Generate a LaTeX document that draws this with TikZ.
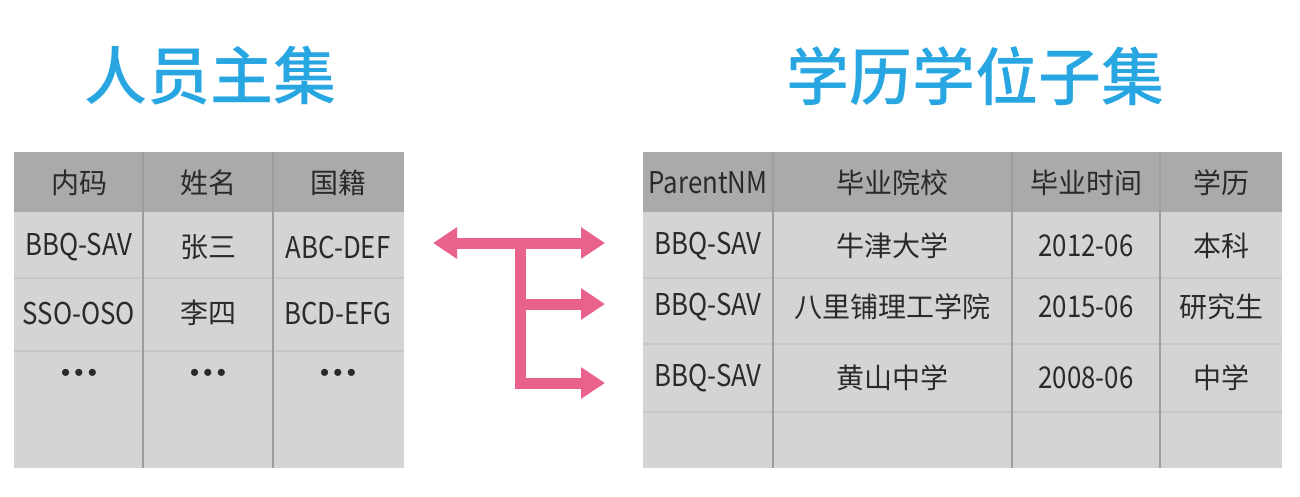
\documentclass[tikz,border=0pt]{standalone}
\usepackage{fontspec}
\setmainfont{Noto Sans CJK SC}
\newfontfamily\ttlfont{Noto Sans CJK SC Medium}
\newfontfamily\narrowfont[FakeStretch=0.86]{Noto Sans CJK SC}
\newfontfamily\dotfont{Liberation Sans}
\usetikzlibrary{arrows.meta}
\definecolor{titleblue}{HTML}{27A6E1}
\definecolor{linkpink}{HTML}{E9628B}
\definecolor{headgray}{HTML}{AAAAAA}
\definecolor{bodygray}{HTML}{D4D4D4}
\definecolor{txtgray}{HTML}{2A2A2A}
\tikzset{
  ttl/.style={font=\ttlfont\fontsize{63}{66}\selectfont, text=titleblue, inner sep=0pt},
  cell/.style={font=\fontsize{28}{30}\selectfont, text=txtgray, inner sep=0pt},
  latcell/.style={font=\narrowfont\fontsize{30}{32}\selectfont, text=txtgray, inner sep=0pt},
  dots/.style={font=\dotfont\fontsize{26}{28}\selectfont, text=txtgray, inner sep=0pt},
  headbg/.style={fill=headgray},
  bodybg/.style={fill=bodygray},
  colline/.style={draw=black!38, line width=1.2pt},
  rowline/.style={draw=black!22, line width=2pt},
  link/.style={draw=linkpink, line width=11pt},
  tip/.style={-{Triangle[length=24pt,width=30pt]}},
}

\begin{document}
\begin{tikzpicture}[x=1pt, y=-1pt]
\useasboundingbox (0,0) rectangle (1300,496);
% titles
\node[ttl] (mastertitle) at (210,76) {人员主集};
\node[ttl] (subtitle) at (975,76) {学历学位子集};

% master table
\fill[headbg] (14,152) rectangle (404,212);
\fill[bodybg] (14,212) rectangle (404,468);
\draw[rowline] (14,278) -- (404,278) (14,351) -- (404,351);
\draw[colline] (143,152) -- (143,468) (273,152) -- (273,468);
\node[cell] (mh1) at (79,183) {内码};
\node[cell] (mh2) at (208,183) {姓名};
\node[cell] (mh3) at (338,183) {国籍};
\node[latcell] (ma1) at (79,247) {BBQ-SAV};
\node[cell] (ma2) at (208,247) {张三};
\node[latcell] (ma3) at (338,247) {ABC-DEF};
\node[latcell] (mb1) at (79,313) {SSO-OSO};
\node[cell] (mb2) at (208,313) {李四};
\node[latcell] (mb3) at (338,313) {BCD-EFG};
\node[dots] (mc1) at (79,375) {•\,•\,•};
\node[dots] (mc2) at (208,375) {•\,•\,•};
\node[dots] (mc3) at (338,375) {•\,•\,•};

% sub table
\fill[headbg] (643,152) rectangle (1282,212);
\fill[bodybg] (643,212) rectangle (1282,468);
\draw[rowline] (643,278) -- (1282,278) (643,344) -- (1282,344) (643,412) -- (1282,412);
\draw[colline] (773,152) -- (773,468) (1012,152) -- (1012,468) (1160,152) -- (1160,468);
\node[latcell] (sh1) at (708,183) {ParentNM};
\node[cell] (sh2) at (892,183) {毕业院校};
\node[cell] (sh3) at (1086,183) {毕业时间};
\node[cell] (sh4) at (1221,183) {学历};
\node[latcell] (sa1) at (708,246) {BBQ-SAV};
\node[cell] (sa2) at (892,246) {牛津大学};
\node[latcell] (sa3) at (1086,246) {2012-06};
\node[cell] (sa4) at (1221,246) {本科};
\node[latcell] (sb1) at (708,307) {BBQ-SAV};
\node[cell] (sb2) at (892,307) {八里铺理工学院};
\node[latcell] (sb3) at (1086,307) {2015-06};
\node[cell] (sb4) at (1221,307) {研究生};
\node[latcell] (sc1) at (708,378) {BBQ-SAV};
\node[cell] (sc2) at (892,378) {黄山中学};
\node[latcell] (sc3) at (1086,378) {2008-06};
\node[cell] (sc4) at (1221,378) {中学};

% link arrows
\coordinate (jtop) at (520,243);
\coordinate (jmid) at (520,304);
\coordinate (jbot) at (520,383);
\coordinate (ltip) at (433,243);
\coordinate (rtipa) at (605,243);
\coordinate (rtipb) at (605,304);
\coordinate (rtipc) at (605,383);
\draw[link, {Triangle[length=24pt,width=30pt]}-{Triangle[length=24pt,width=30pt]}] (ltip) -- (rtipa);
\draw[link, tip] (jmid) -- (rtipb);
\draw[link, tip] (jtop) -- (jbot) -- (rtipc);
\end{tikzpicture}
\end{document}
